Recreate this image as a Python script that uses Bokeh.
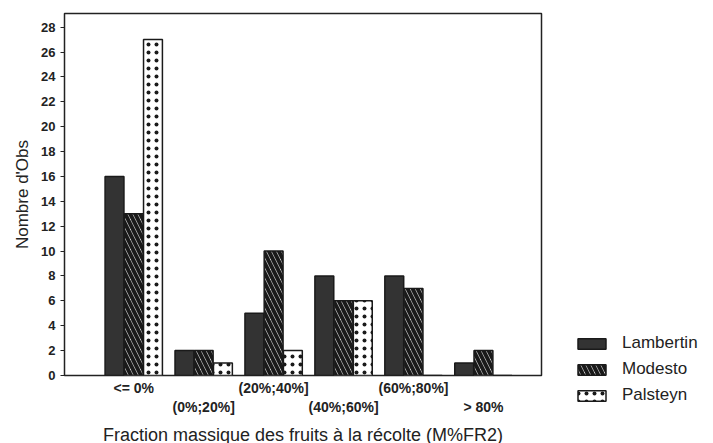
from bokeh.plotting import figure
from bokeh.models import (Range1d, LinearAxis, FixedTicker, Legend, LegendItem)
from bokeh.embed import file_html
from bokeh.resources import INLINE

# Histogram classes and counts per variety
classes = ["<= 0%", "(0%;20%]", "(20%;40%]", "(40%;60%]", "(60%;80%]", "> 80%"]
lambertin = [16, 2, 5, 8, 8, 1]
modesto = [13, 2, 10, 6, 7, 2]
palsteyn = [27, 1, 2, 6, 0, 0]
varieties = ["Lambertin", "Modesto", "Palsteyn"]
y_ticks = list(range(0, 30, 2))

FONT = "Liberation Sans"
INK = "#222222"
pos = list(range(1, len(classes) + 1))

# bar styles per variety
styles = [
    dict(fill_color="#333333"),
    dict(fill_color="white", hatch_pattern="\\", hatch_color="#1a1a1a",
         hatch_weight=4, hatch_scale=10),
    dict(fill_color="white", hatch_pattern=".", hatch_color="#1a1a1a",
         hatch_weight=2.4, hatch_scale=8),
]

p = figure(frame_width=477, frame_height=362, output_backend="svg",
           toolbar_location=None, x_range=Range1d(0.01, 6.83),
           y_range=Range1d(0, 29.1), x_axis_location=None,
           min_border_left=64, min_border_top=13, min_border_right=172,
           min_border_bottom=68, background_fill_color="white",
           border_fill_color="white")
p.xgrid.visible = False
p.ygrid.visible = False
p.outline_line_color = INK
p.outline_line_width = 1.5

off = 0.275
w = 0.27
renderers = []
for k, vals in enumerate([lambertin, modesto, palsteyn]):
    r = p.vbar(x=[x + (k - 1) * off for x in pos], top=vals, width=w, bottom=0,
               line_color="#1a1a1a", line_width=1.5, **styles[k])
    renderers.append(r)

# y axis
ya = p.yaxis[0]
ya.ticker = FixedTicker(ticks=y_ticks)
ya.axis_label = "Nombre d'Obs"
ya.axis_label_text_font = FONT
ya.axis_label_text_font_size = "17px"
ya.axis_label_text_font_style = "normal"
ya.axis_label_text_color = INK
ya.axis_label_standoff = 6
ya.major_label_text_font = FONT
ya.major_label_text_font_size = "13px"
ya.major_label_text_font_style = "bold"
ya.major_label_text_color = INK
ya.major_label_standoff = 5
ya.major_tick_out = 4
ya.major_tick_in = 0
ya.minor_tick_out = 0
ya.minor_tick_in = 0
ya.axis_line_color = INK
ya.major_tick_line_color = INK

# x axis labels in two staggered rows
def make_axis(idx, standoff):
    ax = LinearAxis(ticker=FixedTicker(ticks=[pos[i] for i in idx]),
                    major_label_overrides={pos[i]: classes[i] for i in idx})
    ax.major_label_text_font = FONT
    ax.major_label_text_font_size = "14px"
    ax.major_label_text_font_style = "bold"
    ax.major_label_text_color = INK
    ax.major_label_standoff = standoff
    ax.major_tick_out = 0
    ax.major_tick_in = 0
    ax.minor_tick_out = 0
    ax.minor_tick_in = 0
    ax.major_tick_line_color = None
    ax.minor_tick_line_color = None
    ax.axis_line_color = None
    return ax

ax1 = make_axis([0, 2, 4], 4)
ax2 = make_axis([1, 3, 5], 0)
ax2.axis_label = "Fraction massique des fruits à la récolte (M%FR2)"
ax2.axis_label_text_font = FONT
ax2.axis_label_text_font_size = "18px"
ax2.axis_label_text_font_style = "normal"
ax2.axis_label_text_color = INK
ax2.axis_label_standoff = 7
p.add_layout(ax1, "below")
p.add_layout(ax2, "below")

items = [LegendItem(label=name, renderers=[r])
         for name, r in zip(varieties, renderers)]
legend = Legend(items=items, location=(33, -30), glyph_width=35,
                glyph_height=13, label_height=20, label_standoff=13, spacing=6,
                padding=0, margin=0, label_text_font=FONT,
                label_text_font_size="17px", label_text_color=INK,
                border_line_color=None, background_fill_alpha=0)
p.add_layout(legend, "right")

open("out.html", "w").write(file_html(p, INLINE))
